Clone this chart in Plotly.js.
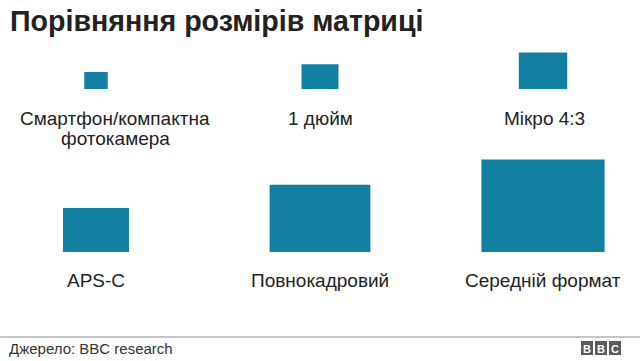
<!DOCTYPE html>
<html>
<head>
<meta charset="utf-8">
<script src="https://cdn.plot.ly/plotly-3.0.1.min.js"></script>
<style>
  html, body { margin: 0; padding: 0; background: #fff; }
  #chart { width: 640px; height: 361px; }
</style>
</head>
<body>
<div id="chart"></div>
<script>
// ---- data ----
const sensors = ['Смартфон/компактна<br>фотокамера', '1 дюйм', 'Мікро 4:3', 'APS-C', 'Повнокадровий', 'Середній формат'];
const widthsMm = [8.4, 13.2, 17.3, 23.6, 36, 44];
const heightsMm = [6.1, 8.8, 13, 15.7, 24, 33];
const titleText = 'Порівняння розмірів матриці';
const sourceText = 'Джерело: BBC research';

// ---- layout constants (pixels) ----
const PX_PER_MM = 2.8;
const colCenters = [96, 320, 543];
const labelCenters = [[115, 320, 544], [96, 320, 543]];
const rowBaselines = [89, 252];
const labelMids = [118, 280];
const lineStep = 20;
const teal = '#1380A1';
const FONT = 'Liberation Sans, Arial, sans-serif';

const xs = [], bases = [], ys = [], ws = [];
sensors.forEach((s, i) => {
  const c = i % 3, r = Math.floor(i / 3);
  xs.push(colCenters[c]);
  bases.push(rowBaselines[r]);
  ys.push(-heightsMm[i] * PX_PER_MM);
  ws.push(widthsMm[i] * PX_PER_MM);
});

const trace = {
  type: 'bar',
  x: xs, y: ys, base: bases, width: ws,
  marker: { color: teal, line: { width: 0 } },
  hoverinfo: 'skip',
  showlegend: false
};

const annotations = [];
sensors.forEach((s, i) => {
  const c = i % 3, r = Math.floor(i / 3);
  s.split('<br>').forEach((line, j) => {
    annotations.push({
      xref: 'x', yref: 'y',
      x: labelCenters[r][c], y: labelMids[r] + j * lineStep,
      text: line, showarrow: false,
      xanchor: 'center', yanchor: 'middle',
      font: { family: FONT, size: 19, color: '#222' }
    });
  });
});

annotations.push({
  xref: 'paper', yref: 'paper',
  x: 7 / 640, y: 1 - 348 / 361,
  text: sourceText, showarrow: false,
  xanchor: 'left', yanchor: 'middle',
  font: { family: FONT, size: 15, color: '#333' }
});

const bbcLetters = ['B', 'B', 'C'];
const shapes = [{
  type: 'line', xref: 'paper', yref: 'paper',
  x0: 0, x1: 1, y0: 1 - 337 / 361, y1: 1 - 337 / 361,
  line: { color: '#8a8a8a', width: 1 }
}];
bbcLetters.forEach((L, k) => {
  const x0 = 581 + k * 14;
  shapes.push({
    type: 'rect', xref: 'x', yref: 'y',
    x0: x0, x1: x0 + 12, y0: 341, y1: 355,
    fillcolor: '#5a5a5a', line: { width: 0 }
  });
  annotations.push({
    xref: 'x', yref: 'y', x: x0 + 6, y: 348.5,
    text: '<b>' + L + '</b>', showarrow: false,
    xanchor: 'center', yanchor: 'middle',
    font: { family: FONT, size: 11, color: '#fff' }
  });
});

const layout = {
  width: 640, height: 361,
  margin: { l: 0, r: 0, t: 0, b: 0 },
  paper_bgcolor: '#fff', plot_bgcolor: '#fff',
  title: {
    text: '<b>' + titleText + '</b>',
    x: 10 / 640, xanchor: 'left', xref: 'paper',
    y: 1 - 21 / 361, yanchor: 'middle', yref: 'container',
    font: { family: FONT, size: 28.6, color: '#222' }
  },
  xaxis: { range: [0, 640], visible: false, fixedrange: true },
  yaxis: { range: [361, 0], visible: false, fixedrange: true },
  annotations: annotations,
  shapes: shapes,
  showlegend: false
};

Plotly.newPlot('chart', [trace], layout, { staticPlot: true, displayModeBar: false });
</script>
</body>
</html>
